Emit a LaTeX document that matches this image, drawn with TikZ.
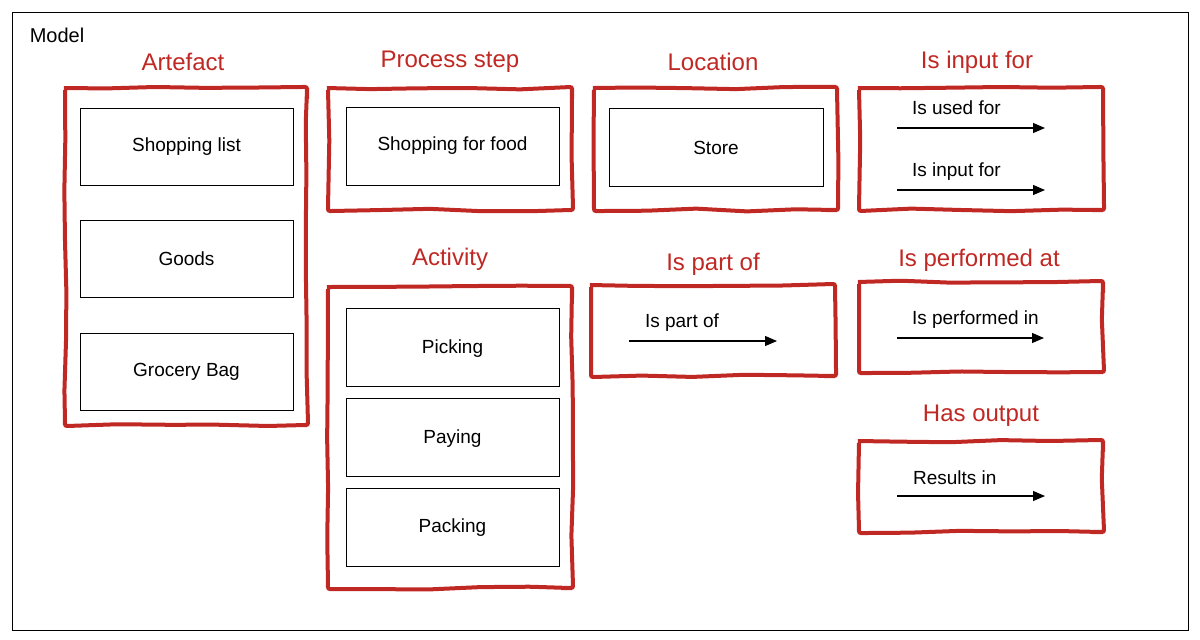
\documentclass[tikz,border=0pt]{standalone}
\usepackage{fontspec}
\setmainfont{Liberation Sans}
\usetikzlibrary{decorations.pathmorphing,arrows.meta}
\definecolor{redc}{RGB}{192,40,36}
\tikzset{
  frame/.style={draw=redc,line width=2pt,decorate,decoration={random steps,segment length=25pt,amplitude=0.7pt},rounded corners=1pt},
  item/.style={draw,line width=0.5pt,fill=white},
  ttl/.style={text=redc,font=\fontsize{12}{14}\selectfont},
  txt/.style={font=\fontsize{9.5}{11}\selectfont},
  rel/.style={line width=0.6pt,-{Triangle[length=6pt,width=5pt]}}
}
\begin{document}
\begin{tikzpicture}[x=0.5pt,y=-0.5pt]
\pgfmathsetseed{7}
\useasboundingbox (0,0) rectangle (1200,639);
\draw[line width=0.5pt] (12,12) rectangle (1188,630);
\node[txt,font=\fontsize{10}{12}\selectfont] (model) at (57,35) {Model};
% Artefact
\node[ttl] (tA) at (183,62) {Artefact};
\draw[frame] (65,88) rectangle (307,425);
\draw[item] (80,108) rectangle (293,185); \node[txt] (a1) at (186.5,147) {Shopping list};
\draw[item] (80,220) rectangle (293,297); \node[txt] (a2) at (186.5,259) {Goods};
\draw[item] (80,333) rectangle (293,410); \node[txt] (a3) at (186.5,372) {Grocery Bag};
% Process step
\node[ttl] (tP) at (450,62) {Process step};
\draw[frame] (328,88) rectangle (572,210);
\draw[item] (346,107) rectangle (559,185); \node[txt] (p1) at (452.5,146) {Shopping for food};
% Location
\node[ttl] (tL) at (713,62) {Location};
\draw[frame] (594,88) rectangle (837,210);
\draw[item] (609,108) rectangle (823,186); \node[txt] (l1) at (716,148) {Store};
% Is input for
\node[ttl] (tI) at (977,62) {Is input for};
\draw[frame] (859,88) rectangle (1103,210);
\node[txt,anchor=west] (i1) at (905,108) {Is used for};
\coordinate (i1a) at (897,128); \coordinate (i1b) at (1045,128);
\draw[rel] (i1a) -- (i1b);
\node[txt,anchor=west] (i2) at (905,172) {Is input for};
\coordinate (i2a) at (897,190); \coordinate (i2b) at (1045,190);
\draw[rel] (i2a) -- (i2b);
% Activity
\node[ttl] (tAc) at (450,259) {Activity};
\draw[frame] (328,287) rectangle (572,588);
\draw[item] (346,308) rectangle (559,386); \node[txt] (c1) at (452.5,349) {Picking};
\draw[item] (346,398) rectangle (559,476); \node[txt] (c2) at (452.5,439) {Paying};
\draw[item] (346,488) rectangle (559,566); \node[txt] (c3) at (452.5,528) {Packing};
% Is part of
\node[ttl] (tPa) at (713,264) {Is part of};
\draw[frame] (591,285) rectangle (835,376);
\node[txt,anchor=west] (pa) at (638,323) {Is part of};
\coordinate (paa) at (629,341); \coordinate (pab) at (777,341);
\draw[rel] (paa) -- (pab);
% Is performed at
\node[ttl] (tPe) at (979,260) {Is performed at};
\draw[frame] (859,282) rectangle (1103,372);
\node[txt,anchor=west] (pe) at (905,320) {Is performed in};
\coordinate (pea) at (897,338); \coordinate (peb) at (1044,338);
\draw[rel] (pea) -- (peb);
% Has output
\node[ttl] (tH) at (981,416) {Has output};
\draw[frame] (859,441) rectangle (1103,532);
\node[txt,anchor=west] (ho) at (906,478) {Results in};
\coordinate (hoa) at (897,496); \coordinate (hob) at (1045,496);
\draw[rel] (hoa) -- (hob);
\end{tikzpicture}
\end{document}
